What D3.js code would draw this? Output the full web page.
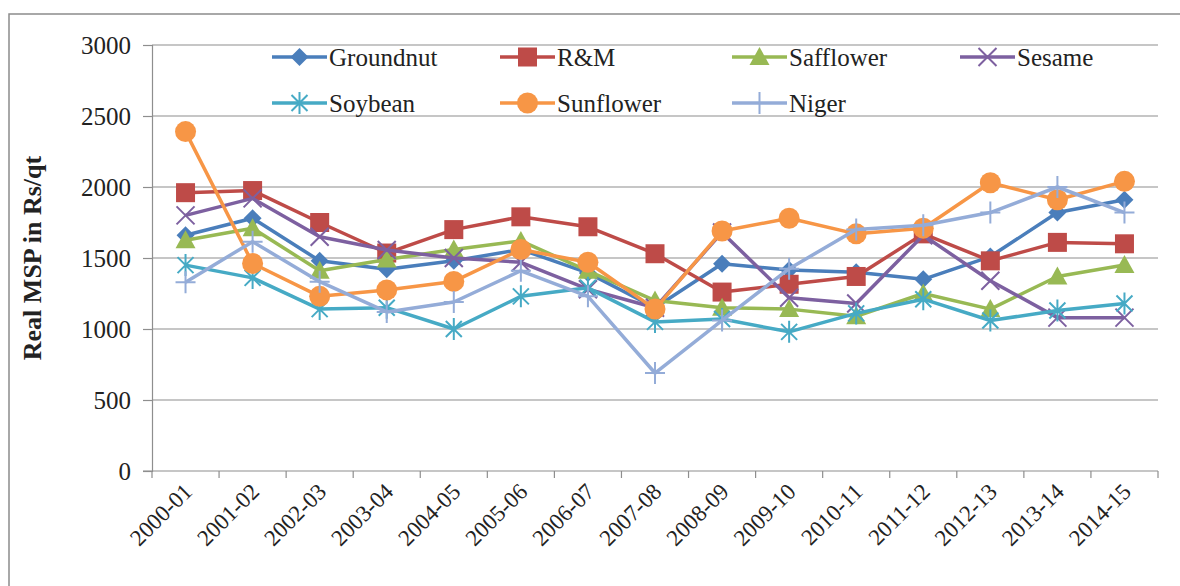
<!DOCTYPE html>
<html>
<head>
<meta charset="utf-8">
<script src="https://cdn.jsdelivr.net/npm/d3@7/dist/d3.min.js"></script>
<style>
  html, body { margin: 0; padding: 0; background: #fff; }
  svg { display: block; }
</style>
</head>
<body>
<svg id="chart" width="1180" height="586"></svg>
<script>
const categories = ["2000-01","2001-02","2002-03","2003-04","2004-05","2005-06","2006-07","2007-08","2008-09","2009-10","2010-11","2011-12","2012-13","2013-14","2014-15"];
const seriesNames = ["Groundnut","R&M","Safflower","Sesame","Soybean","Sunflower","Niger"];
const groundnut = [1660,1780,1480,1420,1480,1560,1395,1150,1460,1415,1400,1350,1510,1820,1910];
const rm        = [1960,1975,1750,1535,1700,1790,1720,1530,1260,1315,1370,1670,1480,1610,1600];
const safflower = [1625,1710,1410,1490,1560,1620,1410,1200,1150,1140,1090,1250,1140,1370,1450];
const sesame    = [1800,1920,1650,1556,1500,1470,1280,1150,1680,1220,1180,1660,1340,1080,1080];
const soybean   = [1450,1360,1140,1150,1000,1230,1290,1050,1070,980,1110,1210,1060,1130,1180];
const sunflower = [2390,1462,1230,1275,1335,1560,1470,1140,1690,1780,1670,1710,2030,1910,2040];
const niger     = [1330,1615,1333,1120,1190,1410,1230,690,1060,1425,1700,1730,1820,2000,1820];
const yTicks = [0,500,1000,1500,2000,2500,3000];
const yTitle = "Real MSP in Rs/qt";

const seriesValues = [groundnut, rm, safflower, sesame, soybean, sunflower, niger];
const colors = ["#4A7EBB","#BE4B48","#98B954","#7D60A0","#46AAC5","#F79646","#94ACD8"];
const markers = ["diamond","square","triangle","x","star","circle","plus"];
const FONT = "'Liberation Serif', 'Times New Roman', serif";

const svg = d3.select("#chart");
const L = 152, R = 1158, T = 45, B = 471;

// outer border
svg.append("rect").attr("x",9).attr("y",14).attr("width",1200).attr("height",600)
  .attr("fill","none").attr("stroke","#8c8c8c").attr("stroke-width",1.5);

const xBand = d3.scaleBand().domain(categories).range([L,R]);
const x = d => xBand(d) + xBand.bandwidth()/2;
const y = d3.scaleLinear().domain([0,3000]).range([B,T]);

// gridlines
svg.append("g").selectAll("line").data(yTicks.filter(d=>d>0)).join("line")
  .attr("x1",L).attr("x2",R).attr("y1",d=>y(d)).attr("y2",d=>y(d))
  .attr("stroke","#8e8e8e").attr("stroke-width",1.2);

// y axis
const yAxis = svg.append("g").attr("transform",`translate(${L},0)`)
  .call(d3.axisLeft(y).tickValues(yTicks).tickFormat(d3.format("d")).tickSize(9).tickPadding(12));
yAxis.attr("font-family", null).attr("font-size", null);
yAxis.select(".domain").attr("stroke","#8e8e8e").attr("stroke-width",1.2);
yAxis.selectAll(".tick line").attr("stroke","#8e8e8e").attr("stroke-width",1.2);
yAxis.selectAll(".tick text").style("font-family",FONT).style("font-size","25px").attr("fill","#222").attr("dy","0.34em");

// x axis
const xAxisG = svg.append("g").attr("transform",`translate(0,${B})`);
xAxisG.append("line").attr("x1",L-9).attr("x2",R).attr("y1",0).attr("y2",0)
  .attr("stroke","#8e8e8e").attr("stroke-width",1.2);
const bounds = categories.map(c=>xBand(c)).concat([R]);
xAxisG.selectAll("line.tk").data(bounds).join("line").attr("class","tk")
  .attr("x1",d=>d).attr("x2",d=>d).attr("y1",0).attr("y2",7)
  .attr("stroke","#8e8e8e").attr("stroke-width",1.2);
xAxisG.selectAll("text").data(categories).join("text")
  .attr("transform",d=>`translate(${x(d)+8},${22}) rotate(-45)`)
  .attr("text-anchor","end")
  .style("font-family",FONT).style("font-size","23px").attr("fill","#222")
  .text(d=>d);

// y title
svg.append("text").attr("transform",`translate(41,${(T+B)/2}) rotate(-90)`)
  .attr("text-anchor","middle").style("font-family",FONT).style("font-size","26px").style("font-weight","bold")
  .attr("fill","#222").text(yTitle);

function drawMarker(g, type, cx, cy, color) {
  const s = g.append("g").attr("transform",`translate(${cx},${cy})`);
  if (type==="diamond") {
    s.append("path").attr("d","M0,-9L9,0L0,9L-9,0Z").attr("fill",color);
  } else if (type==="square") {
    s.append("rect").attr("x",-9.5).attr("y",-9.5).attr("width",19).attr("height",19).attr("fill",color);
  } else if (type==="triangle") {
    s.append("path").attr("d","M0,-10L10,8L-10,8Z").attr("fill",color);
  } else if (type==="circle") {
    s.append("circle").attr("r",10.5).attr("fill",color);
  } else if (type==="x") {
    s.append("path").attr("d","M-9,-9L9,9M-9,9L9,-9").attr("stroke",color).attr("stroke-width",2);
  } else if (type==="star") {
    s.append("path").attr("d","M-8,-8L8,8M-8,8L8,-8M0,-11L0,11").attr("stroke",color).attr("stroke-width",2);
  } else if (type==="plus") {
    s.append("path").attr("d","M-10,0L10,0M0,-11L0,11").attr("stroke",color).attr("stroke-width",2);
  }
}

const line = d3.line().x((d,i)=>x(categories[i])).y(d=>y(d));
seriesValues.forEach((vals,si)=>{
  const g = svg.append("g");
  g.append("path").datum(vals).attr("d",line).attr("fill","none")
    .attr("stroke",colors[si]).attr("stroke-width",3.5).attr("stroke-linejoin","round");
  vals.forEach((v,i)=>drawMarker(g, markers[si], x(categories[i]), y(v), colors[si]));
});

// legend
const legCols = [272, 500, 732, 960];
const legRows = [57, 103];
seriesNames.forEach((name,i)=>{
  const lx = legCols[i%4], ly = legRows[Math.floor(i/4)];
  const g = svg.append("g");
  g.append("line").attr("x1",lx).attr("x2",lx+55).attr("y1",ly).attr("y2",ly)
    .attr("stroke",colors[i]).attr("stroke-width",3.5);
  drawMarker(g, markers[i], lx+27.5, ly, colors[i]);
  g.append("text").attr("x",lx+57).attr("y",ly).attr("dy","0.34em")
    .style("font-family",FONT).style("font-size","25px").attr("fill","#222").text(name);
});
</script>
</body>
</html>
